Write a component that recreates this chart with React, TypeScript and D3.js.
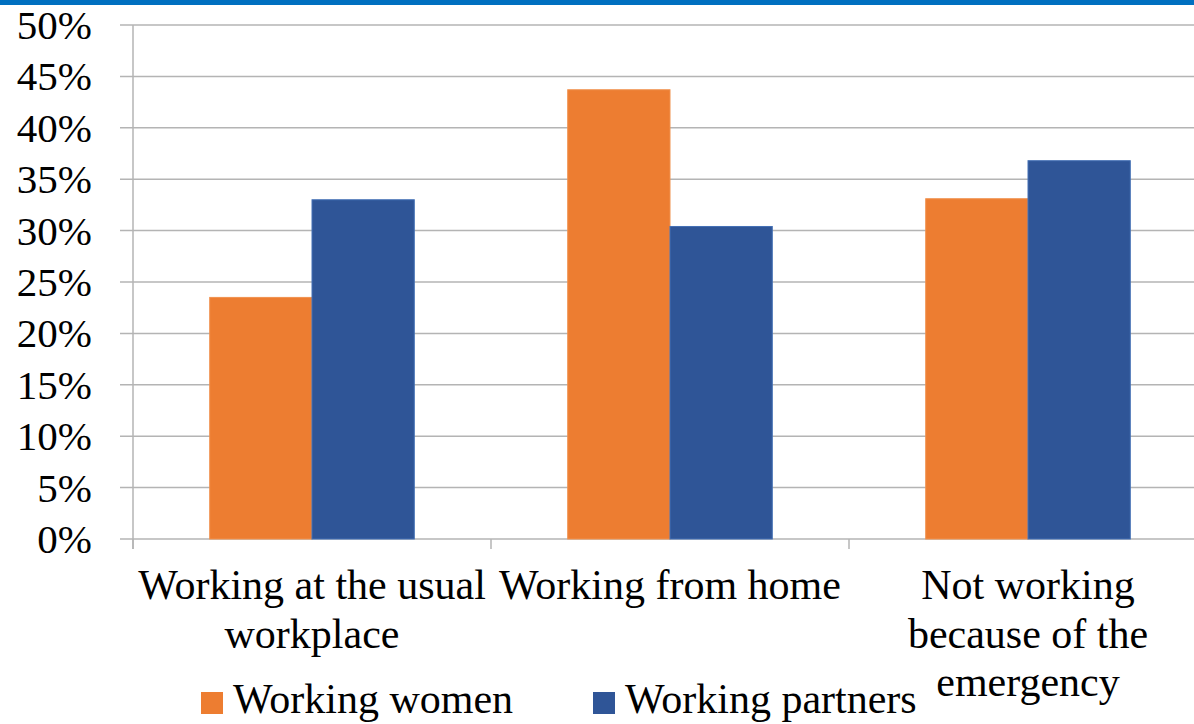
import { scaleBand, scaleLinear, range } from 'd3'

const categories = [
  'Working at the usual\nworkplace',
  'Working from home',
  'Not working\nbecause of the\nemergency',
]
const seriesNames = ['Working women', 'Working partners']
const womenValues = [0.235, 0.437, 0.331]
const partnersValues = [0.33, 0.304, 0.368]
const yTickValues = [0, 0.05, 0.1, 0.15, 0.2, 0.25, 0.3, 0.35, 0.4, 0.45, 0.5]

const colors = ['#ED7D31', '#2F5597']
const serifFont = 'Liberation Serif'

export default function App() {
  const width = 1194
  const height = 724
  const plotLeft = 133
  const plotTop = 25
  const plotBottom = 539
  const catWidth = 358

  const values = [womenValues, partnersValues]

  const x = scaleBand<string>()
    .domain(categories)
    .range([plotLeft, plotLeft + catWidth * categories.length])
    .padding(0)

  // excel-style gap width of 150%
  const xInner = scaleBand<string>()
    .domain(seriesNames)
    .range([0, x.bandwidth()])
    .paddingInner(0)
    .paddingOuter(0.75)

  const y = scaleLinear().domain([0, 0.5]).range([plotBottom, plotTop])

  const gridColor = '#b4b4b4'

  return (
    <svg
      width={width}
      height={height}
      style={{ position: 'absolute', left: 0, top: 0, background: '#fff' }}
    >
      <rect x={0} y={0} width={width} height={5} fill="#0070C0" />

      {yTickValues.map((t) => (
        <line
          key={`grid-${t}`}
          x1={plotLeft - 13}
          x2={width}
          y1={y(t)}
          y2={y(t)}
          stroke={gridColor}
          strokeWidth={1.5}
        />
      ))}

      {seriesNames.map((s, si) =>
        categories.map((c, ci) => (
          <rect
            key={`${s}-${c}`}
            x={(x(c) ?? 0) + (xInner(s) ?? 0)}
            y={y(values[si][ci])}
            width={xInner.bandwidth()}
            height={plotBottom - y(values[si][ci])}
            fill={colors[si]}
            stroke={si === 1 ? '#4470b5' : '#f0924f'}
            strokeWidth={1}
          />
        ))
      )}

      <line x1={plotLeft} x2={plotLeft} y1={plotTop} y2={plotBottom + 10} stroke={gridColor} strokeWidth={1.5} />
      {range(categories.length + 1).map((i) => (
        <line
          key={`xt-${i}`}
          x1={plotLeft + i * x.step()}
          x2={plotLeft + i * x.step()}
          y1={plotBottom}
          y2={plotBottom + 10}
          stroke={gridColor}
          strokeWidth={1.5}
        />
      ))}

      {yTickValues.map((t) => (
        <text
          key={`yl-${t}`}
          x={92}
          y={y(t) + 14}
          textAnchor="end"
          fontSize={41}
          fontFamily={serifFont}
          fill="#000"
        >
          {`${Math.round(t * 100)}%`}
        </text>
      ))}

      {categories.map((c) => (
        <text
          key={`xl-${c}`}
          x={(x(c) ?? 0) + x.bandwidth() / 2}
          y={599}
          textAnchor="middle"
          fontSize={42}
          fontFamily={serifFont}
          fill="#000"
        >
          {c.split('\n').map((line, li) => (
            <tspan key={li} x={(x(c) ?? 0) + x.bandwidth() / 2} dy={li === 0 ? 0 : 48.5}>
              {line}
            </tspan>
          ))}
        </text>
      ))}

      {seriesNames.map((s, si) => {
        const lx = [201, 593][si]
        return (
          <g key={`lg-${s}`}>
            <rect x={lx} y={692} width={22} height={22} fill={colors[si]} />
            <text x={lx + 32} y={713} fontSize={42} fontFamily={serifFont} fill="#000">
              {s}
            </text>
          </g>
        )
      })}
    </svg>
  )
}
